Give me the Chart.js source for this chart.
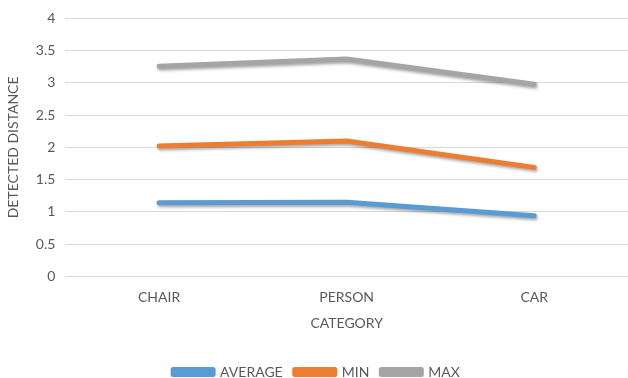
<!DOCTYPE html>
<html>
<head>
  <meta charset="utf-8">
  <title>Detected distance</title>
  <script src="https://cdn.jsdelivr.net/npm/chart.js@4/dist/chart.umd.min.js"></script>
  <style>
    html, body { margin: 0; background: #fff; overflow: hidden; }
    /* a bit taller than the window so the legend sits near the bottom edge */
    #wrap { width: 628px; height: 389px; }
  </style>
</head>
<body>
  <div id="wrap"><canvas id="line-chart"></canvas></div>
  <script>
    var categories = ["CHAIR", "PERSON", "CAR"];
    var average = [1.14, 1.15, 0.94];
    var minVals = [2.02, 2.10, 1.69];
    var maxVals = [3.26, 3.37, 2.98];

    // excel style soft shadow under the lines
    var shadow = {
      id: 'shadow',
      beforeDatasetsDraw: function (chart) {
        var ctx = chart.ctx;
        ctx.save();
        ctx.shadowColor = 'rgba(0,0,0,0.35)';
        ctx.shadowBlur = 3;
        ctx.shadowOffsetX = 1;
        ctx.shadowOffsetY = 2;
      },
      afterDatasetsDraw: function (chart) {
        chart.ctx.restore();
      }
    };

    Chart.defaults.font.family = "Lato, 'Open Sans', sans-serif";
    Chart.defaults.font.size = 14;
    Chart.defaults.color = '#595959';

    function ds(label, data, color) {
      return {
        label: label,
        data: data,
        borderColor: color,
        backgroundColor: color,
        borderWidth: 5,
        borderCapStyle: 'round',
        borderJoinStyle: 'round',
        pointRadius: 0,
        tension: 0,
        fill: false
      };
    }

    new Chart(document.getElementById("line-chart"), {
      type: 'line',
      data: {
        labels: categories,
        datasets: [
          ds("AVERAGE", average, "#5B9BD5"),
          ds("MIN", minVals, "#ED7D31"),
          ds("MAX", maxVals, "#A5A5A5")
        ]
      },
      options: {
        responsive: true,
        maintainAspectRatio: false,
        animation: false,
        layout: { padding: { top: 9, right: 0, left: 5, bottom: 0 } },
        plugins: {
          tooltip: { enabled: false },
          legend: {
            position: 'bottom',
            labels: {
              boxWidth: 40,
              boxHeight: 5,
              padding: 12,
              color: '#595959'
            }
          }
        },
        scales: {
          x: {
            offset: true,
            grid: { display: false },
            border: { display: false },
            ticks: { padding: 5 },
            title: { display: true, text: 'CATEGORY', padding: { top: 4, bottom: 21 } }
          },
          y: {
            min: 0,
            max: 4,
            ticks: {
              stepSize: 0.5,
              padding: 10,
              callback: function (v) { return String(v); }
            },
            grid: { color: '#D9D9D9', lineWidth: 1, drawTicks: false },
            border: { display: false },
            title: { display: true, text: 'DETECTED DISTANCE', padding: { top: 0, bottom: 4 } }
          }
        }
      },
      plugins: [shadow]
    });
  </script>
</body>
</html>
